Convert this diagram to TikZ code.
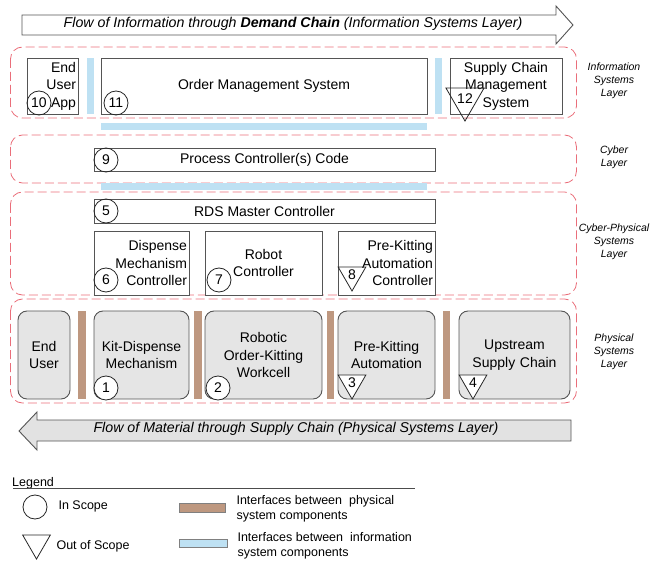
\documentclass[tikz,border=0pt]{standalone}
\usepackage{fontspec}
\setmainfont{Liberation Sans}
\usetikzlibrary{shapes.geometric}

\definecolor{layerred}{RGB}{234,110,122}
\definecolor{boxgray}{RGB}{85,85,85}
\definecolor{physgray}{RGB}{229,229,229}
\definecolor{physbrown}{RGB}{190,152,128}
\definecolor{infoblue}{RGB}{190,225,243}
\definecolor{arrowgray}{RGB}{226,226,226}

\newcommand{\boxfont}{\fontsize{14}{17.5}\selectfont}
\newcommand{\numfont}{\fontsize{14}{14}\selectfont}
\newcommand{\layerfont}{\fontsize{10.5}{13}\selectfont\itshape}
\newcommand{\legendfont}{\fontsize{12.5}{15.5}\selectfont}

\begin{document}
\begin{tikzpicture}[x=1pt,y=-1pt,
    layer/.style={draw=layerred, line width=0.8pt, dash pattern=on 9pt off 4pt, rounded corners=12pt},
    sysbox/.style={draw=boxgray, fill=white, line width=0.9pt, inner xsep=2pt, inner ysep=0pt, font=\boxfont},
    physbox/.style={sysbox, fill=physgray, rounded corners=9pt},
    infobar/.style={fill=infoblue},
    physbar/.style={fill=physbrown},
    inscope/.style={circle, draw=black!85, line width=0.8pt, minimum size=24pt, inner sep=0pt, font=\numfont},
    outscope/.style={regular polygon, regular polygon sides=3, shape border rotate=180, draw=black!85,
                     line width=0.8pt, minimum size=32pt, inner sep=0pt, font=\numfont},
    layerlabel/.style={align=center, font=\layerfont},
    flowtext/.style={font=\fontsize{14.2}{16}\selectfont\itshape}]

  \useasboundingbox (0,0) rectangle (664,561);

  % Demand chain arrow (left to right)
  \draw[boxgray, fill=white, line width=0.9pt]
    (22,15) -- (556,15) -- (556,6) -- (573,25) -- (556,44) -- (556,35) -- (22,35) -- cycle;
  \node[flowtext] (demand) at (293,24)
    {Flow of Information through \textbf{Demand Chain} (Information Systems Layer)};

  % Layers
  \draw[layer] (10.5,47) rectangle (576.5,118);
  \draw[layer] (10.5,135) rectangle (576.5,183);
  \draw[layer] (10.5,192) rectangle (576.5,295);
  \draw[layer] (10.5,299) rectangle (576.5,403);

  \node[layerlabel] (infolbl) at (614,81) {Information\\Systems\\Layer};
  \node[layerlabel] (cyberlbl) at (614,157) {Cyber\\Layer};
  \node[layerlabel] (cplbl) at (614,242) {Cyber-Physical\\Systems\\Layer};
  \node[layerlabel] (physlbl) at (614,352) {Physical\\Systems\\Layer};

  % Information systems layer
  \node[sysbox, minimum width=51, minimum height=56, text width=47, align=right]
    (app) at (52.5,86) {End\\User\\App};
  \node[sysbox, minimum width=326, minimum height=56] (oms) at (264,86) {Order Management System};
  \node[sysbox, minimum width=112, minimum height=56, text width=108, align=center]
    (scms) at (506,86) {Supply Chain\\Management\\System};
  \fill[infobar] (87,58) rectangle (94,114);
  \fill[infobar] (435,58) rectangle (442,114);
  \fill[infobar] (101,123) rectangle (427,130);

  % Cyber layer
  \node[sysbox, minimum width=341, minimum height=23] (pcc) at (264.5,159.5) {Process Controller(s) Code};
  \fill[infobar] (101,183) rectangle (427,190);

  % Cyber-physical systems layer
  \node[sysbox, minimum width=341, minimum height=24] (rds) at (264.5,211) {RDS Master Controller};
  \node[sysbox, minimum width=95, minimum height=64, text width=91, align=right]
    (dmc) at (141.5,263) {Dispense\\Mechanism\\Controller};
  \node[sysbox, minimum width=117, minimum height=64, text width=113, align=center]
    (robctl) at (263.5,263) {Robot\\Controller};
  \node[sysbox, minimum width=97, minimum height=64, text width=93, align=right]
    (pkac) at (386.5,263) {Pre-Kitting\\Automation\\Controller};

  % Physical systems layer
  \node[physbox, minimum width=52, minimum height=88, text width=48, align=center]
    (enduser) at (44,355) {End\\User};
  \node[physbox, minimum width=95, minimum height=88, text width=91, align=center]
    (kdm) at (141.5,355) {Kit-Dispense\\Mechanism};
  \node[physbox, minimum width=117, minimum height=88, text width=113, align=center]
    (rokw) at (263.5,355) {Robotic\\Order-Kitting\\Workcell};
  \node[physbox, minimum width=97, minimum height=88, text width=93, align=center]
    (pka) at (386.5,355) {Pre-Kitting\\Automation};
  \node[physbox, minimum width=111, minimum height=88, text width=107, align=center]
    (usc) at (514.5,355) {Upstream\\Supply Chain\\[4pt]};
  \fill[physbar] (78,311) rectangle (86,399);
  \fill[physbar] (194,311) rectangle (202,399);
  \fill[physbar] (327,311) rectangle (334,399);
  \fill[physbar] (443,311) rectangle (450,399);

  % Scope markers
  \node[inscope] (s10) at (39,103) {10};
  \node[inscope] (s11) at (116,103) {11};
  \node[outscope] (s12) at (465,99) {\raisebox{-3pt}{12}};
  \node[inscope] (s9) at (106,160) {9};
  \node[inscope] (s5) at (106,211) {5};
  \node[inscope] (s6) at (106,280) {6};
  \node[inscope] (s7) at (219,280) {7};
  \node[outscope] (s8) at (352,275) {\raisebox{-3pt}{8}};
  \node[inscope, fill=white] (s1) at (106,388) {1};
  \node[inscope, fill=white] (s2) at (218,388) {2};
  \node[outscope, fill=white] (s3) at (352,383) {\raisebox{-3pt}{3}};
  \node[outscope, fill=white] (s4) at (473,383) {\raisebox{-3pt}{4}};

  % Supply chain arrow (right to left)
  \draw[boxgray, fill=arrowgray, line width=0.9pt]
    (571,420) -- (37,420) -- (37,412) -- (19,431) -- (37,450) -- (37,441) -- (571,441) -- cycle;
  \node[flowtext] (material) at (296,429)
    {Flow of Material through Supply Chain (Physical Systems Layer)};

  % Legend
  \node[anchor=base west, inner sep=0pt, font=\legendfont] (legend) at (12,486) {Legend};
  \draw[black!70, line width=0.8pt] (13,488) -- (415,488);
  \node[inscope] (leg-in) at (35,507) {};
  \node[anchor=west, font=\legendfont] (leg-in-txt) at (55,506) {In Scope};
  \node[outscope] (leg-out) at (36.5,543) {};
  \node[anchor=west, font=\legendfont] (leg-out-txt) at (53,546) {Out of Scope};
  \draw[physbar, draw=black!50, line width=0.5pt] (179,503) rectangle (225,512);
  \node[anchor=west, align=left, font=\legendfont] (leg-phys) at (233,509)
    {Interfaces between\ \ physical\\system components};
  \draw[infobar, draw=black!50, line width=0.5pt] (179,539) rectangle (227,547);
  \node[anchor=west, align=left, font=\legendfont] (leg-info) at (234,546)
    {Interfaces between\ \ information\\system components};
\end{tikzpicture}
\end{document}
